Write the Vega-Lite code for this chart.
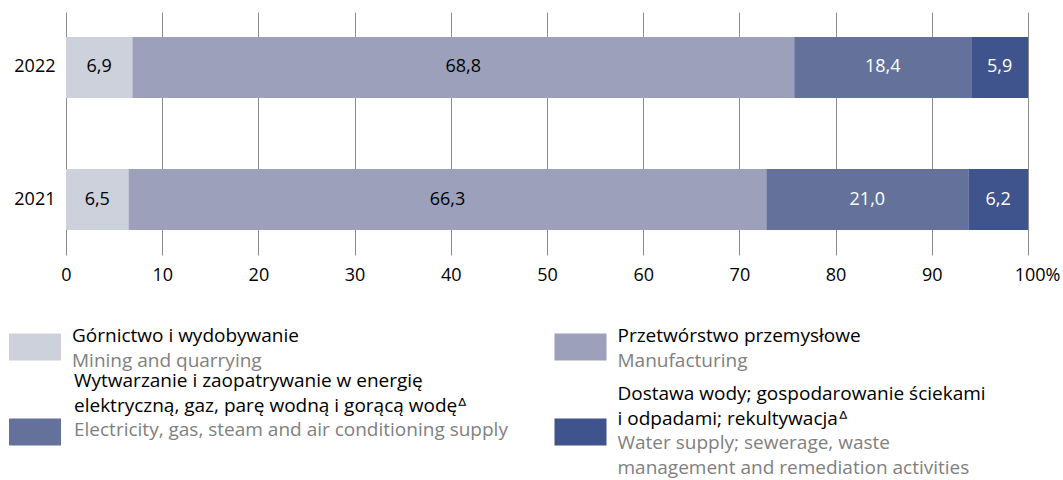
{
  "$schema": "https://vega.github.io/schema/vega-lite/v6.json",
  "background": "white",
  "padding": {"left": 9, "top": 12, "right": 0, "bottom": 0},
  "autosize": {"type": "pad"},
  "bounds": "flush",
  "spacing": 45,
  "config": {
    "font": "Open Sans",
    "view": {"stroke": null},
    "locale": {"number": {"decimal": ",", "thousands": " ", "grouping": [3], "currency": ["", " zł"]}}
  },
  "datasets": {
    "shares": [
      {"year": "2022", "sector": "Górnictwo i wydobywanie", "k": 1, "value": 6.9},
      {"year": "2022", "sector": "Przetwórstwo przemysłowe", "k": 2, "value": 68.8},
      {"year": "2022", "sector": "Wytwarzanie i zaopatrywanie w energię elektryczną, gaz, parę wodną i gorącą wodę", "k": 3, "value": 18.4},
      {"year": "2022", "sector": "Dostawa wody; gospodarowanie ściekami i odpadami; rekultywacja", "k": 4, "value": 5.9},
      {"year": "2021", "sector": "Górnictwo i wydobywanie", "k": 1, "value": 6.5},
      {"year": "2021", "sector": "Przetwórstwo przemysłowe", "k": 2, "value": 66.3},
      {"year": "2021", "sector": "Wytwarzanie i zaopatrywanie w energię elektryczną, gaz, parę wodną i gorącą wodę", "k": 3, "value": 21.0},
      {"year": "2021", "sector": "Dostawa wody; gospodarowanie ściekami i odpadami; rekultywacja", "k": 4, "value": 6.2}
    ],
    "legendKeys": [
      {"sector": "Górnictwo i wydobywanie", "col": 0, "row": 0},
      {"sector": "Przetwórstwo przemysłowe", "col": 1, "row": 0},
      {"sector": "Wytwarzanie i zaopatrywanie w energię elektryczną, gaz, parę wodną i gorącą wodę", "col": 0, "row": 1},
      {"sector": "Dostawa wody; gospodarowanie ściekami i odpadami; rekultywacja", "col": 1, "row": 1}
    ],
    "legendText": [
      {"col": 0, "row": 0, "line": 0, "lang": "pl", "text": "Górnictwo i wydobywanie"},
      {"col": 0, "row": 0, "line": 1, "lang": "en", "text": "Mining and quarrying"},
      {"col": 1, "row": 0, "line": 0, "lang": "pl", "text": "Przetwórstwo przemysłowe"},
      {"col": 1, "row": 0, "line": 1, "lang": "en", "text": "Manufacturing"},
      {"col": 0, "row": 1, "line": 0, "lang": "pl", "text": "Wytwarzanie i zaopatrywanie w energię"},
      {"col": 0, "row": 1, "line": 1, "lang": "pl", "text": "elektryczną, gaz, parę wodną i gorącą wodęᐞ"},
      {"col": 0, "row": 1, "line": 2, "lang": "en", "text": "Electricity, gas, steam and air conditioning supply"},
      {"col": 1, "row": 1, "line": 0, "lang": "pl", "text": "Dostawa wody; gospodarowanie ściekami"},
      {"col": 1, "row": 1, "line": 1, "lang": "pl", "text": "i odpadami; rekultywacjaᐞ"},
      {"col": 1, "row": 1, "line": 2, "lang": "en", "text": "Water supply; sewerage, waste"},
      {"col": 1, "row": 1, "line": 3, "lang": "en", "text": "management and remediation activities"}
    ]
  },
  "vconcat": [
    {
      "width": 962,
      "height": 243,
      "data": {"name": "shares"},
      "encoding": {
        "y": {
          "field": "year",
          "type": "nominal",
          "sort": ["2022", "2021"],
          "scale": {"paddingInner": 0.538, "paddingOuter": 0.189},
          "axis": {"title": null, "ticks": false, "domain": false, "labelPadding": 11, "labelFontSize": 18, "labelColor": "#000000", "labelFont": "Open Sans"}
        }
      },
      "layer": [
        {
          "mark": {"type": "bar"},
          "encoding": {
            "x": {
              "field": "value",
              "type": "quantitative",
              "stack": "zero",
              "scale": {"domain": [0, 100], "nice": false},
              "axis": {
                "title": null,
                "values": [0, 10, 20, 30, 40, 50, 60, 70, 80, 90, 100],
                "grid": true,
                "gridColor": "#8c8c8c",
                "gridWidth": 1,
                "gridOpacity": 1,
                "ticks": false,
                "domain": false,
                "labelPadding": 11,
                "labelFontSize": 18,
                "labelColor": "#000000",
                "labelFlush": false,
                "labelExpr": "datum.value === 100 ? '100%' : format(datum.value, 'd')",
                "labelOffset": {"condition": {"test": "datum.value === 100", "value": 9}, "value": 0}
              }
            },
            "color": {
              "field": "sector",
              "type": "nominal",
              "scale": {
                "domain": [
                  "Górnictwo i wydobywanie",
                  "Przetwórstwo przemysłowe",
                  "Wytwarzanie i zaopatrywanie w energię elektryczną, gaz, parę wodną i gorącą wodę",
                  "Dostawa wody; gospodarowanie ściekami i odpadami; rekultywacja"
                ],
                "range": ["#cdd1dc", "#9ca0ba", "#64729b", "#3f538c"]
              },
              "legend": null
            },
            "order": {"field": "k", "type": "quantitative"}
          }
        },
        {
          "mark": {"type": "text", "fontSize": 18, "align": "center", "baseline": "middle"},
          "encoding": {
            "x": {"field": "value", "type": "quantitative", "stack": "zero", "bandPosition": 0.5},
            "text": {"field": "value", "type": "quantitative", "format": ".1f"},
            "order": {"field": "k", "type": "quantitative"},
            "detail": {"field": "sector"},
            "color": {"condition": {"test": "datum.k >= 3", "value": "#ffffff"}, "value": "#000000"}
          }
        }
      ]
    },
    {
      "width": 962,
      "height": 180,
      "resolve": {"scale": {"y": "independent"}},
      "encoding": {
        "x": {"field": "col", "type": "quantitative", "scale": {"domain": [0, 1], "range": [-31, 514.5]}, "axis": null}
      },
      "layer": [
        {
          "data": {"name": "legendKeys"},
          "mark": {"type": "rect", "width": 52, "height": 27},
          "encoding": {
            "y": {"field": "row", "type": "quantitative", "scale": {"domain": [0, 1], "range": [47, 132]}, "axis": null},
            "color": {"field": "sector", "type": "nominal", "legend": null}
          }
        },
        {
          "data": {"name": "legendText"},
          "transform": [{"filter": "datum.row === 0"}],
          "mark": {"type": "text", "align": "left", "baseline": "alphabetic", "dx": 37, "fontSize": 19},
          "encoding": {
            "y": {"field": "line", "type": "quantitative", "scale": {"domain": [0, 1], "range": [42, 66.5]}, "axis": null},
            "text": {"field": "text"},
            "color": {"condition": {"test": "datum.lang === 'en'", "value": "#808080"}, "value": "#000000"}
          }
        },
        {
          "data": {"name": "legendText"},
          "transform": [{"filter": "datum.row === 1 && datum.col === 0"}],
          "mark": {"type": "text", "align": "left", "baseline": "alphabetic", "dx": 39, "fontSize": 19},
          "encoding": {
            "y": {"field": "line", "type": "quantitative", "scale": {"domain": [0, 1], "range": [87, 111.5]}, "axis": null},
            "text": {"field": "text"},
            "color": {"condition": {"test": "datum.lang === 'en'", "value": "#808080"}, "value": "#000000"}
          }
        },
        {
          "data": {"name": "legendText"},
          "transform": [{"filter": "datum.row === 1 && datum.col === 1"}],
          "mark": {"type": "text", "align": "left", "baseline": "alphabetic", "dx": 37, "fontSize": 19},
          "encoding": {
            "y": {"field": "line", "type": "quantitative", "scale": {"domain": [0, 1], "range": [100, 124.5]}, "axis": null},
            "text": {"field": "text"},
            "color": {"condition": {"test": "datum.lang === 'en'", "value": "#808080"}, "value": "#000000"}
          }
        }
      ]
    }
  ]
}
